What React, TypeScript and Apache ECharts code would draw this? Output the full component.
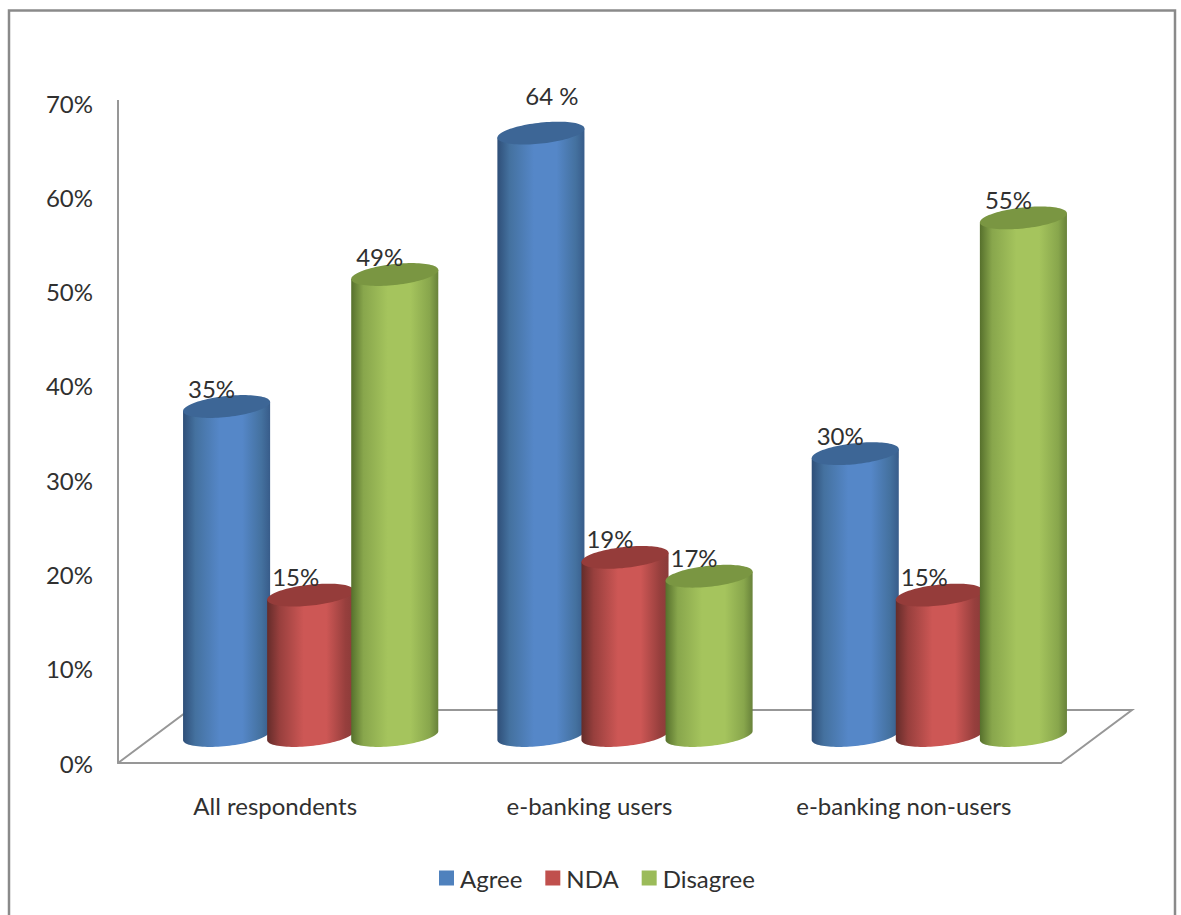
import React, { useEffect, useRef } from "react";
import * as echarts from "echarts";

const categories = ["All respondents", "e-banking users", "e-banking non-users"];
const seriesNames = ["Agree", "NDA", "Disagree"];
const agree = [35, 64, 30];
const nda = [15, 19, 15];
const disagree = [49, 17, 55];
const agreeLabels = ["35%", "64 %", "30%"];
const ndaLabels = ["15%", "19%", "15%"];
const disagreeLabels = ["49%", "17%", "55%"];
const yTicks = { min: 0, max: 70, step: 10 };

const swatches = ["#4F81BD", "#C0504D", "#9BBB59"];
const shades = [
  { edge: "#2f4f78", mid: "#44719f", light: "#5587c8", rim: "#385c8a", cap: "#3d6696" },
  { edge: "#642c2a", mid: "#973f3d", light: "#cd5755", rim: "#8a3b39", cap: "#953c3a" },
  { edge: "#56702c", mid: "#88a64c", light: "#a5c45d", rim: "#68823a", cap: "#7a9642" },
];

const FONT = "Lato";
const FONT_SIZE = 24;
const TEXT = "#303030";
const LINE = "#979797";

// Oblique floor: the rear edge sits this far from the front edge; bars stand halfway back.
const DEPTH_X = 71;
const DEPTH_Y = -53;
const BAR_STEP = 0.2675; // spacing between neighbouring cylinders, as a share of the band
const BAR_RX = 0.1385; // cylinder half-width, as a share of the band
const RY = 10.5;
const TILT = 4.5;

function ellipsePoint(cx: number, cy: number, rx: number, t: number) {
  return [cx + rx * Math.cos(t), cy + RY * Math.sin(t) - TILT * Math.cos(t)];
}

function cylinderRenderer(seriesIndex: number, labels: string[]) {
  const shade = shades[seriesIndex];
  return (_params: any, api: any) => {
    const cat = api.value(0);
    const val = api.value(1);
    const band = api.size([1, 0])[0];
    const top = api.coord([cat, val]);
    const base = api.coord([cat, 0]);
    const cx = top[0] + DEPTH_X / 2 + (seriesIndex - 1) * band * BAR_STEP;
    const yTop = top[1] + DEPTH_Y / 2;
    const yBase = base[1] + DEPTH_Y / 2 - 1;
    const rx = band * BAR_RX;

    const body: number[][] = [ellipsePoint(cx, yTop, rx, Math.PI), ellipsePoint(cx, yTop, rx, 0)];
    const cap: number[][] = [];
    const N = 48;
    for (let i = 0; i <= N; i++) body.push(ellipsePoint(cx, yBase, rx, (i / N) * Math.PI));
    for (let i = 0; i < N * 2; i++) cap.push(ellipsePoint(cx, yTop, rx, (i / N) * Math.PI));

    const text = labels[cat];
    // The "64 %" label is set apart, above and right of its cap's centre.
    const spaced = text.includes(" ");
    return {
      type: "group",
      children: [
        {
          type: "polygon",
          shape: { points: body },
          style: {
            fill: new echarts.graphic.LinearGradient(0, 0, 1, 0, [
              { offset: 0, color: shade.edge },
              { offset: 0.14, color: shade.mid },
              { offset: 0.42, color: shade.light },
              { offset: 0.68, color: shade.light },
              { offset: 0.9, color: shade.mid },
              { offset: 1, color: shade.rim },
            ]),
          },
        },
        { type: "polygon", shape: { points: cap }, style: { fill: shade.cap } },
        {
          type: "text",
          z2: 100,
          style: {
            x: spaced ? cx + 11 : cx - 15,
            y: spaced ? yTop - 38 : yTop - 18.5,
            text,
            font: `${FONT_SIZE}px ${FONT}`,
            fill: TEXT,
            align: "center",
            verticalAlign: "middle",
          },
        },
      ],
    };
  };
}

function floorRenderer(params: any) {
  const { x, y, width, height } = params.coordSys;
  const front = y + height;
  const right = x + width;
  const lineStyle = { stroke: LINE, lineWidth: 2, fill: "none" };
  return {
    type: "group",
    children: [
      {
        type: "polyline",
        shape: {
          points: [
            [x, front],
            [x + DEPTH_X, front + DEPTH_Y],
            [right + DEPTH_X, front + DEPTH_Y],
            [right, front],
          ],
        },
        style: lineStyle,
      },
      {
        type: "line",
        shape: { x1: x, y1: y - 3, x2: x, y2: y + 2 },
        style: lineStyle,
      },
    ],
  };
}

const toPairs = (values: number[]) => values.map((v, i) => [i, v]);

export default function App() {
  const ref = useRef<HTMLDivElement>(null);

  useEffect(() => {
    const chart = echarts.init(ref.current!, undefined, { renderer: "svg" });
    const valueSets = [agree, nda, disagree];
    const labelSets = [agreeLabels, ndaLabels, disagreeLabels];
    chart.setOption({
      animation: false,
      backgroundColor: "#ffffff",
      color: swatches,
      textStyle: { fontFamily: FONT },
      grid: { left: 118, top: 103, width: 943, height: 660, containLabel: false },
      legend: {
        data: seriesNames,
        left: 434,
        top: 861,
        icon: "rect",
        itemWidth: 15,
        itemHeight: 15,
        itemGap: 23,
        selectedMode: false,
        textStyle: { fontFamily: FONT, fontSize: FONT_SIZE, color: TEXT, padding: [0, 0, 0, 1] },
      },
      xAxis: {
        type: "category",
        data: categories,
        axisTick: { show: false },
        axisLine: { lineStyle: { color: LINE, width: 2 } },
        axisLabel: { fontFamily: FONT, fontSize: FONT_SIZE, color: TEXT, margin: 30 },
      },
      yAxis: {
        type: "value",
        min: yTicks.min,
        max: yTicks.max,
        interval: yTicks.step,
        splitLine: { show: false },
        axisTick: { show: false },
        axisLine: { show: true, lineStyle: { color: LINE, width: 2 } },
        axisLabel: {
          fontFamily: FONT,
          fontSize: FONT_SIZE,
          color: TEXT,
          margin: 25,
          padding: [0, 0, 3, 0],
          formatter: "{value}%",
        },
      },
      series: [
        {
          type: "custom",
          name: "floor",
          silent: true,
          z: 1,
          data: [[0, 0]],
          renderItem: floorRenderer,
        },
        ...seriesNames.map((name, i) => ({
          type: "custom",
          name,
          silent: true,
          z: 2 + i,
          itemStyle: { color: swatches[i] },
          encode: { x: 0, y: 1 },
          data: toPairs(valueSets[i]),
          renderItem: cylinderRenderer(i, labelSets[i]),
        })),
      ],
      graphic: [
        {
          // Open-bottomed outer frame of the chart area
          type: "polyline",
          z: 0,
          silent: true,
          shape: { points: [[9, 915], [9, 10.5], [1175, 10.5], [1175, 915]] },
          style: { stroke: "#8a8a8a", lineWidth: 2.5, fill: "none" },
        },
      ],
    });
    return () => chart.dispose();
  }, []);

  return <div ref={ref} style={{ position: "fixed", left: 0, top: 0, width: 1181, height: 915 }} />;
}
